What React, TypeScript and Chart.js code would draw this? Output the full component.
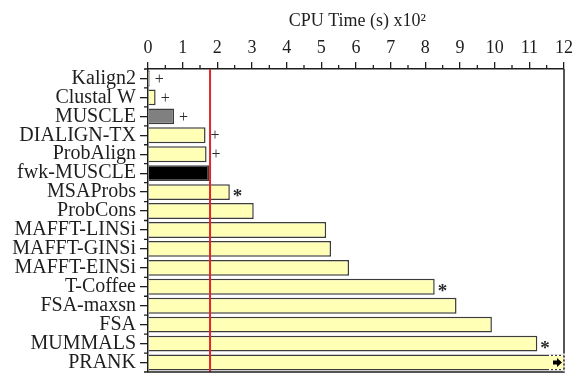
import React, { useEffect, useRef } from "react";
import { Chart, registerables } from "chart.js";

Chart.register(...registerables);

// Aligners and their CPU time, in hundreds of seconds
const categories = [
  "Kalign2",
  "Clustal W",
  "MUSCLE",
  "DIALIGN-TX",
  "ProbAlign",
  "fwk-MUSCLE",
  "MSAProbs",
  "ProbCons",
  "MAFFT-LINSi",
  "MAFFT-GINSi",
  "MAFFT-EINSi",
  "T-Coffee",
  "FSA-maxsn",
  "FSA",
  "MUMMALS",
  "PRANK",
];
const cpuTime = [0.05, 0.22, 0.75, 1.66, 1.69, 1.76, 2.36, 3.05, 5.14, 5.28, 5.8, 8.27, 8.9, 9.92, 11.23, 12.6];
// Significance markers printed after each bar
const markers = ["+", "+", "+", "+", "+", "", "*", "", "", "", "", "*", "", "", "*", ""];
const xTickValues = [0, 12];
const referenceTime = 1.79;
const axisTitle = "CPU Time (s) x10²";

const SERIF = "'Liberation Serif', 'Times New Roman', serif";
const INK = "#1e1e1e";
const BAR_FILL = "#ffffb6";
const BAR_EDGE = "#3c3c3c";
const specialFill: Record<string, string> = {
  MUSCLE: "#808080",
  "fwk-MUSCLE": "#000000",
};

const decorations = {
  id: "decorations",
  afterDatasetsDraw(chart: any) {
    const { ctx, chartArea: a, scales } = chart;
    const x = scales.x;
    const y = scales.y;
    ctx.save();

    // reference time line
    const rx = x.getPixelForValue(referenceTime);
    ctx.strokeStyle = "#e0252b";
    ctx.lineWidth = 2;
    ctx.beginPath();
    ctx.moveTo(rx, a.top);
    ctx.lineTo(rx, a.bottom);
    ctx.stroke();

    // frame: bottom and right sides
    ctx.strokeStyle = INK;
    ctx.lineWidth = 1.5;
    ctx.beginPath();
    ctx.moveTo(a.left, a.bottom);
    ctx.lineTo(a.right, a.bottom);
    ctx.lineTo(a.right, a.top);
    ctx.stroke();

    // minor ticks on the time axis
    ctx.lineWidth = 1.3;
    ctx.beginPath();
    for (let v = xTickValues[0] + 0.5; v < xTickValues[1]; v += 1) {
      const px = x.getPixelForValue(v);
      ctx.moveTo(px, a.top);
      ctx.lineTo(px, a.top - 4);
    }
    // category boundary ticks
    const band = y.getPixelForValue(1) - y.getPixelForValue(0);
    for (let i = 0; i <= categories.length; i++) {
      const py = y.getPixelForValue(0) - band / 2 + i * band;
      ctx.moveTo(a.left - 4, py);
      ctx.lineTo(a.left, py);
    }
    ctx.stroke();

    // axis title, set over the upper part of the time axis
    ctx.fillStyle = INK;
    ctx.font = `18px ${SERIF}`;
    ctx.textAlign = "left";
    ctx.textBaseline = "alphabetic";
    ctx.fillText(axisTitle, x.getPixelForValue(4) + 2, 26);

    const meta = chart.getDatasetMeta(0);
    meta.data.forEach((bar: any, i: number) => {
      const m = markers[i];
      const h = bar.height;
      if (cpuTime[i] > x.max) {
        // bar runs past the axis: break its end and add an arrow
        const top = bar.y - h / 2;
        const bot = bar.y + h / 2;
        const x0 = a.right - 15;
        ctx.strokeStyle = "#ffffff";
        ctx.lineWidth = 1.6;
        ctx.setLineDash([2, 2]);
        ctx.beginPath();
        ctx.moveTo(x0, top + 0.8);
        ctx.lineTo(a.right, top + 0.8);
        ctx.moveTo(x0, bot - 0.8);
        ctx.lineTo(a.right, bot - 0.8);
        ctx.moveTo(a.right, top - 1);
        ctx.lineTo(a.right, bot + 1);
        ctx.stroke();
        ctx.setLineDash([]);
        const ax = a.right - 11;
        ctx.fillStyle = "#000";
        ctx.beginPath();
        ctx.rect(ax, bar.y - 2, 5, 4);
        ctx.moveTo(ax + 4, bar.y - 4.5);
        ctx.lineTo(ax + 9, bar.y);
        ctx.lineTo(ax + 4, bar.y + 4.5);
        ctx.closePath();
        ctx.fill();
        return;
      }
      if (!m) return;
      ctx.fillStyle = "#2a2a2a";
      ctx.textAlign = "left";
      if (m === "+") {
        ctx.font = `16px ${SERIF}`;
        ctx.textBaseline = "middle";
        ctx.fillText(m, bar.x + 5, bar.y + 1);
      } else {
        ctx.font = `bold 19px ${SERIF}`;
        ctx.textBaseline = "alphabetic";
        ctx.fillText(m, bar.x + 3, bar.y + 10);
      }
    });

    ctx.restore();
  },
};

export default function App() {
  const canvasRef = useRef<HTMLCanvasElement | null>(null);

  useEffect(() => {
    document.body.style.margin = "0";
    document.body.style.overflow = "hidden";
    const canvas = canvasRef.current;
    if (!canvas) return;

    const chart = new Chart(canvas, {
      type: "bar",
      data: {
        labels: categories,
        datasets: [
          {
            data: cpuTime,
            backgroundColor: categories.map((c) => specialFill[c] ?? BAR_FILL),
            borderColor: BAR_EDGE,
            borderWidth: 1.5,
            barPercentage: 0.84,
            categoryPercentage: 1,
            clip: 0,
          } as any,
        ],
      },
      options: {
        indexAxis: "y",
        responsive: false,
        animation: false,
        layout: { padding: { left: 0, right: 23, top: 0, bottom: 5 } },
        plugins: {
          legend: { display: false },
          tooltip: { enabled: false },
        },
        scales: {
          x: {
            position: "top",
            min: xTickValues[0],
            max: xTickValues[1],
            afterFit: (scale: any) => {
              scale.height = 69;
              scale.paddingLeft = 0;
              scale.paddingRight = 0;
            },
            ticks: {
              stepSize: 1,
              color: INK,
              padding: 3,
              font: { family: SERIF, size: 18 },
            },
            grid: {
              drawOnChartArea: false,
              drawTicks: true,
              tickLength: 7,
              color: INK,
              lineWidth: 1.3,
            },
            border: { display: true, color: INK, width: 1.5 },
          },
          y: {
            afterFit: (scale: any) => {
              scale.width = 148;
              scale.paddingTop = 0;
              scale.paddingBottom = 0;
            },
            ticks: {
              autoSkip: false,
              color: INK,
              padding: 4,
              font: { family: SERIF, size: 20 },
            },
            grid: {
              offset: false,
              drawOnChartArea: false,
              drawTicks: true,
              tickLength: 8,
              color: INK,
              lineWidth: 1.3,
            },
            border: { display: true, color: INK, width: 1.5 },
          },
        },
      } as any,
      plugins: [decorations],
    });

    return () => chart.destroy();
  }, []);

  return (
    <div style={{ width: 587, height: 377, background: "#fff" }}>
      <canvas ref={canvasRef} width={587} height={377} />
    </div>
  );
}
